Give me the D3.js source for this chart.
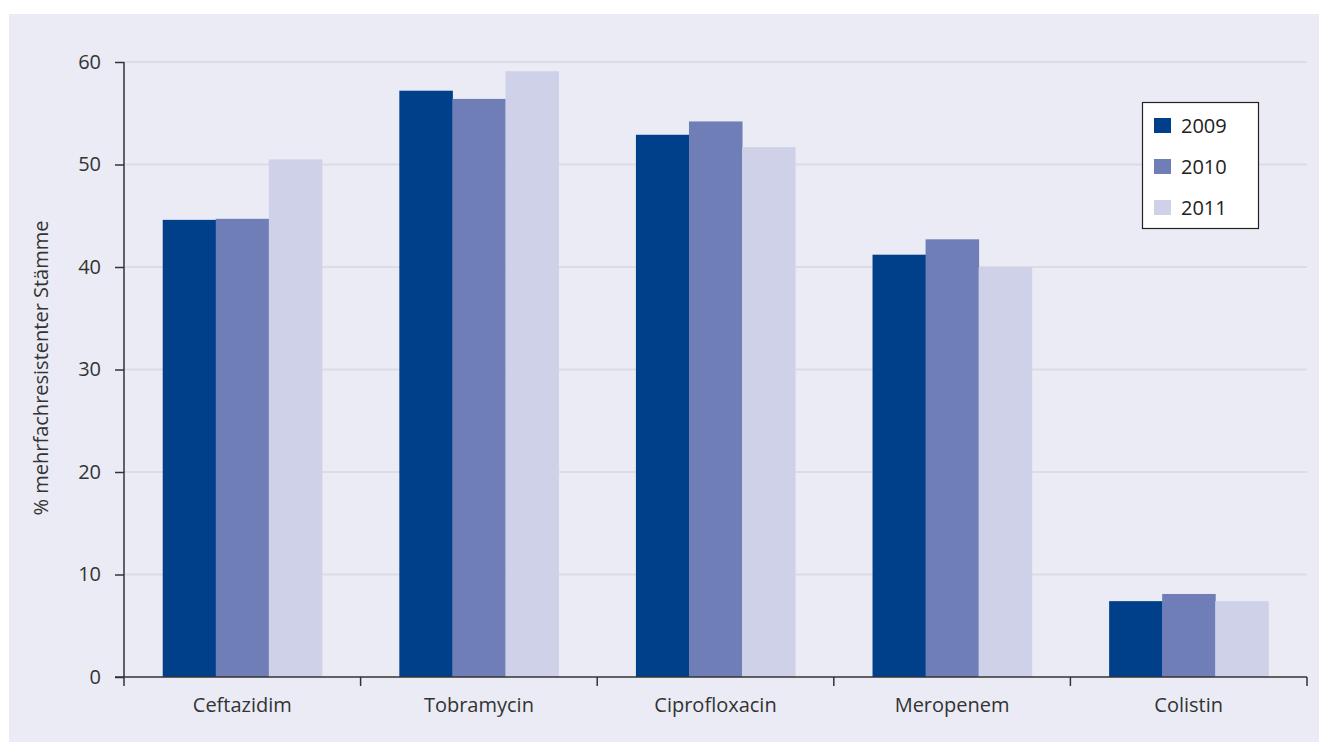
<!DOCTYPE html>
<html><head><meta charset="utf-8">
<script src="https://cdn.jsdelivr.net/npm/d3@7"></script>
<style>body{margin:0;background:#fff;}svg{display:block;}text{font-family:"Open Sans",sans-serif;}</style>
</head><body>
<svg id="c" width="1319" height="742"></svg>
<script>
const categories = ["Ceftazidim","Tobramycin","Ciprofloxacin","Meropenem","Colistin"];
const years = ["2009","2010","2011"];
const v2009 = [44.6, 57.2, 52.9, 41.2, 7.4];
const v2010 = [44.7, 56.4, 54.2, 42.7, 8.1];
const v2011 = [50.5, 59.1, 51.7, 40.0, 7.4];
const yTicks = [0,10,20,30,40,50,60];
const colors = ["#003f8a","#6f7eb7","#cfd1e8"];
const yTitle = "% mehrfachresistenter Stämme";

const series = [v2009, v2010, v2011];
const FS = 20;
const svg = d3.select("#c");
svg.append("rect").attr("x",9).attr("y",14).attr("width",1310).attr("height",728).attr("fill","#ebebf5");

const x0 = d3.scaleBand().domain(categories).range([124,1307]).paddingInner(0).paddingOuter(0);
const x1 = d3.scaleBand().domain(years).range([0, x0.bandwidth()]).paddingOuter(0.73).paddingInner(0);
const y = d3.scaleLinear().domain([0,60]).range([677,62]);

// gridlines
svg.append("g").selectAll("line").data(yTicks.filter(t=>t>0)).join("line")
  .attr("x1",124).attr("x2",1307).attr("y1",d=>y(d)).attr("y2",d=>y(d))
  .attr("stroke","#dcdce4").attr("stroke-width",2);

// bars
const g = svg.append("g");
categories.forEach((c,i)=>{
  years.forEach((yr,j)=>{
    g.append("rect").attr("x",x0(c)+x1(yr)).attr("width",x1.bandwidth()+0.5)
      .attr("y",y(series[j][i])).attr("height",y(0)-y(series[j][i]))
      .attr("fill",colors[j]);
  });
});

// y axis
const ya = svg.append("g").attr("transform","translate(124,0)")
  .call(d3.axisLeft(y).tickValues(yTicks).tickSize(9).tickPadding(14));
ya.attr("font-family",null).attr("font-size",null);
ya.select(".domain").attr("stroke","#333").attr("stroke-width",1.5).attr("d","M0,62V677");
ya.selectAll(".tick line").attr("stroke","#333").attr("stroke-width",1.5);
ya.selectAll("text").attr("font-size",FS).attr("fill","#333");

// x axis
const xTickPos = categories.map(c=>x0(c)).concat([x0.range()[1]]);
const xa = svg.append("g");
xa.append("line").attr("x1",115).attr("x2",1307).attr("y1",677).attr("y2",677).attr("stroke","#333").attr("stroke-width",1.5);
xa.selectAll("line.t").data(xTickPos).join("line").attr("class","t")
  .attr("x1",d=>d).attr("x2",d=>d).attr("y1",677).attr("y2",686).attr("stroke","#333").attr("stroke-width",1.5);
xa.selectAll("text").data(categories).join("text")
  .attr("x",d=>x0(d)+x0.bandwidth()/2).attr("y",712).attr("text-anchor","middle")
  .attr("font-size",FS).attr("fill","#333").text(d=>d);

// y title
svg.append("text").attr("transform","translate(48,368) rotate(-90)").attr("text-anchor","middle")
  .attr("font-size",FS).attr("fill","#333").text(yTitle);

// legend
const lg = svg.append("g");
lg.append("rect").attr("x",1142.5).attr("y",102.5).attr("width",116).attr("height",126)
  .attr("fill","#fff").attr("stroke","#222").attr("stroke-width",1.2);
years.forEach((yr,j)=>{
  const cy = 126 + j*41;
  lg.append("rect").attr("x",1154).attr("y",cy-8).attr("width",17).attr("height",15).attr("fill",colors[j]);
  lg.append("text").attr("x",1181).attr("y",cy+7).attr("font-size",20).attr("fill","#222").text(yr);
});
</script>
</body></html>
